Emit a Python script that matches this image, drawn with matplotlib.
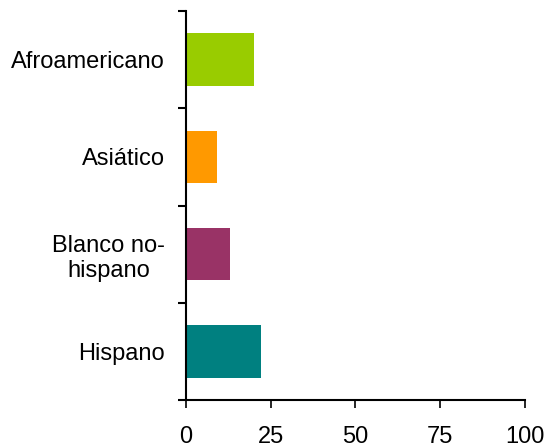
import numpy as np
import matplotlib.pyplot as plt

plt.rcParams['font.family'] = ['Liberation Sans', 'DejaVu Sans']

groups = ['Afroamericano', 'Asiático', 'Blanco no-\nhispano', 'Hispano']
values = [20, 9, 13, 22]
colors = ['#99CC00', '#FF9900', '#993366', '#008080']
xticks = [0, 25, 50, 75, 100]

fig = plt.figure(figsize=(5.48, 4.47), dpi=100)
ax = fig.add_axes([0.3394, 0.1051, 0.6186, 0.8703])

pos = np.arange(len(groups))
ax.barh(pos, values, height=0.54, color=colors)

ax.set_ylim(len(groups) - 0.5, -0.5)
ax.set_xlim(0, 100)

ax.set_yticks(pos)
ax.set_yticklabels(groups, fontsize=17, multialignment='center')
ax.tick_params(axis='y', which='major', length=0, pad=15)
ax.set_yticks(np.arange(-0.5, len(groups)), minor=True)
ax.tick_params(axis='y', which='minor', length=6, width=1.5, direction='out')

ax.set_xticks(xticks)
ax.tick_params(axis='x', length=6, width=1.2, direction='out', labelsize=17, pad=13)

for s in ['top', 'right']:
    ax.spines[s].set_visible(False)
for s in ['left', 'bottom']:
    ax.spines[s].set_linewidth(1.5)

fig.savefig('out.png', dpi=100)
